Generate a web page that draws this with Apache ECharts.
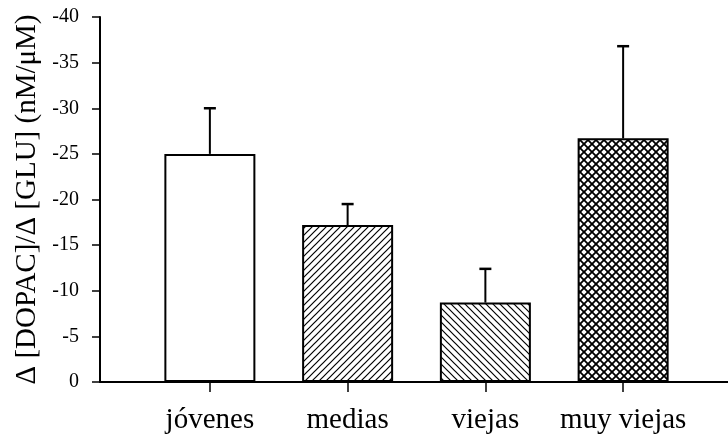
<!DOCTYPE html>
<html>
<head>
<meta charset="utf-8">
<script src="https://cdn.jsdelivr.net/npm/echarts@6/dist/echarts.min.js"></script>
<style>
  html, body { margin: 0; padding: 0; background: #fff; }
  #chart { width: 728px; height: 441px; }
</style>
</head>
<body>
<div id="chart"></div>
<script>
// ---- data ----
const categories = ['jóvenes', 'medias', 'viejas', 'muy viejas'];
const values = [-25.0, -17.2, -8.7, -26.7];
const errorTops = [-30.0, -19.5, -12.4, -36.8];
const patterns = ['none', 'slash', 'backslash', 'cross'];
const yTitle = 'Δ [DOPAC]/Δ [GLU] (nM/μM)';

const FONT = "'Liberation Serif', 'Times New Roman', serif";

function makePattern(kind) {
  if (kind === 'none') return '#ffffff';
  const size = kind === 'cross' ? 8 : 7;
  const c = document.createElement('canvas');
  c.width = size; c.height = size;
  const g = c.getContext('2d');
  g.fillStyle = '#fff';
  g.fillRect(0, 0, size, size);
  g.strokeStyle = '#000';
  g.lineWidth = kind === 'cross' ? 1.8 : 1.2;
  function slash() {
    g.beginPath();
    g.moveTo(-1, size + 1); g.lineTo(size + 1, -1);
    g.moveTo(-1, 1); g.lineTo(1, -1);
    g.moveTo(size - 1, size + 1); g.lineTo(size + 1, size - 1);
    g.stroke();
  }
  function backslash() {
    g.beginPath();
    g.moveTo(-1, -1); g.lineTo(size + 1, size + 1);
    g.moveTo(size - 1, -1); g.lineTo(size + 1, 1);
    g.moveTo(-1, size - 1); g.lineTo(1, size + 1);
    g.stroke();
  }
  if (kind === 'slash') slash();
  else if (kind === 'backslash') backslash();
  else { slash(); backslash(); }
  return { image: c, repeat: 'repeat' };
}

const chart = echarts.init(document.getElementById('chart'), null, { renderer: 'canvas' });

const barData = values.map((v, i) => ({
  value: v,
  itemStyle: { color: makePattern(patterns[i]) }
}));

const errData = values.map((v, i) => [i, v, errorTops[i]]);

const option = {
  backgroundColor: '#ffffff',
  animation: false,
  grid: [
    { left: 100, right: 0, top: 17, bottom: 59, containLabel: false },
    { left: 141, right: 36, top: 17, bottom: 59, containLabel: false }
  ],
  xAxis: [
    {
      gridIndex: 0, type: 'value', min: 0, max: 1,
      axisLine: { show: true, onZero: false, lineStyle: { color: '#000', width: 2 } },
      axisTick: { show: false }, axisLabel: { show: false }, splitLine: { show: false }
    },
    {
      gridIndex: 1, type: 'category', data: categories,
      axisLine: { show: false },
      axisTick: { show: true, alignWithLabel: true, length: 10, lineStyle: { color: '#000', width: 1.5 } },
      axisLabel: { color: '#000', fontFamily: FONT, fontSize: 29, margin: 24, interval: 0, hideOverlap: false },
      splitLine: { show: false }
    }
  ],
  yAxis: [
    {
      gridIndex: 0, type: 'value', inverse: true, min: -40, max: 0, interval: 5,
      axisLine: { show: true, lineStyle: { color: '#000', width: 2 } },
      axisTick: { show: true, length: 8, lineStyle: { color: '#000', width: 1.5 } },
      axisLabel: { color: '#000', fontFamily: FONT, fontSize: 20, margin: 21 },
      splitLine: { show: false },
      name: yTitle, nameLocation: 'middle', nameRotate: 90, nameGap: 56,
      nameTextStyle: { color: '#000', fontFamily: FONT, fontSize: 29 }
    },
    {
      gridIndex: 1, type: 'value', inverse: true, min: -40, max: 0, interval: 5,
      show: false
    }
  ],
  series: [
    {
      type: 'bar', xAxisIndex: 1, yAxisIndex: 1,
      data: barData, barWidth: 91,
      itemStyle: { borderColor: '#000', borderWidth: 2 }
    },
    {
      type: 'custom', xAxisIndex: 1, yAxisIndex: 1,
      data: errData, z: 3,
      renderItem: function (params, api) {
        const x = api.value(0);
        const base = api.coord([x, api.value(1)]);
        const top = api.coord([x, api.value(2)]);
        const hw = 6;
        return {
          type: 'group',
          children: [
            { type: 'line', shape: { x1: base[0], y1: base[1], x2: top[0], y2: top[1] },
              style: { stroke: '#000', lineWidth: 2 } },
            { type: 'line', shape: { x1: top[0] - hw, y1: top[1], x2: top[0] + hw, y2: top[1] },
              style: { stroke: '#000', lineWidth: 2.5 } }
          ]
        };
      }
    }
  ]
};

chart.setOption(option);
</script>
</body>
</html>
